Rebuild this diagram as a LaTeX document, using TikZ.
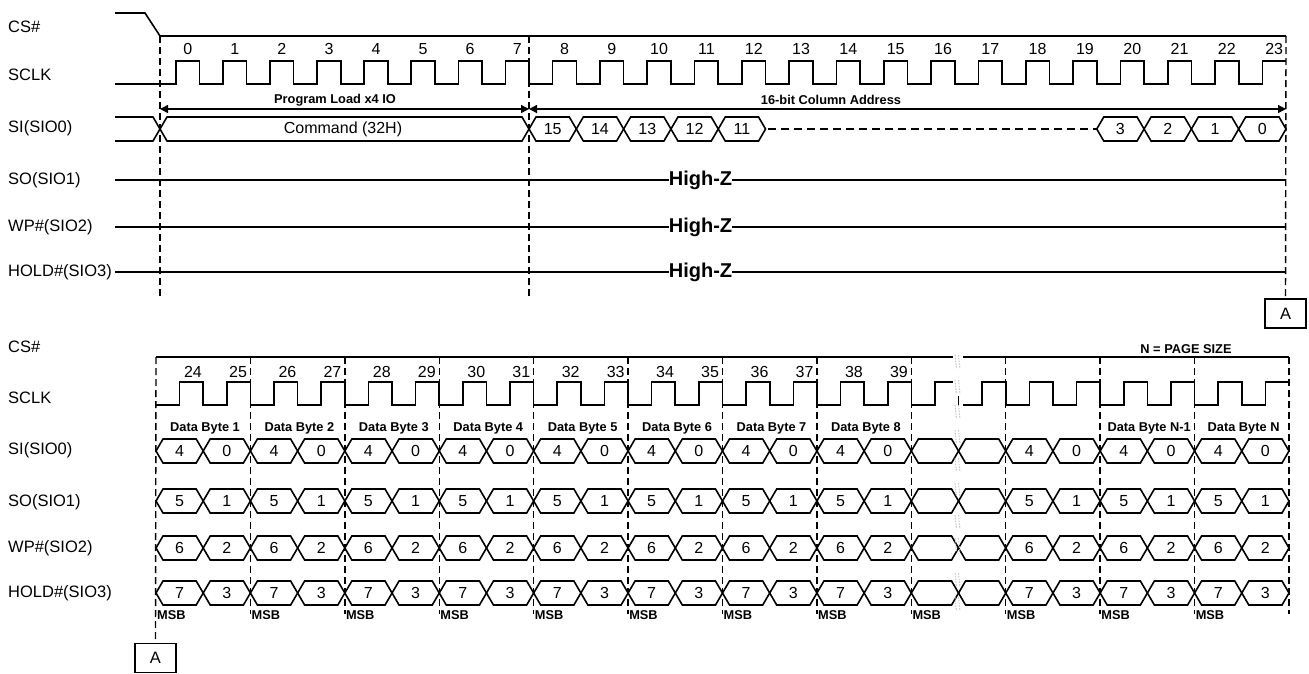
\documentclass[tikz,border=0pt]{standalone}
\usepackage{fontspec}
\setmainfont{Liberation Sans}
\usetikzlibrary{arrows.meta}
\begin{document}
\begin{tikzpicture}[x=1pt,y=-1pt,
  sig/.style={line width=1.6pt},
  vdash/.style={line width=1.4pt, dash pattern=on 7pt off 4pt},
  hdash/.style={line width=1.4pt, dash pattern=on 8pt off 5pt},
  lbl/.style={anchor=west, inner sep=0pt, font=\fontsize{16.5}{18}\selectfont},
  num/.style={inner sep=0pt, font=\fontsize{16}{18}\selectfont},
  bld/.style={inner sep=0pt, font=\fontsize{12.8}{14}\selectfont\bfseries},
  hiz/.style={inner sep=0pt, font=\fontsize{20}{22}\selectfont\bfseries},
  abox/.style={draw, line width=1.2pt, minimum width=41pt, minimum height=29pt, inner sep=0pt, font=\fontsize{16.5}{18}\selectfont},
  arr/.style={line width=1.4pt, {Triangle[length=8pt,width=8pt]}-{Triangle[length=8pt,width=8pt]}},
  gmark/.style={gray!45, line width=1pt, dash pattern=on 1.6pt off 1.2pt}]
\useasboundingbox (0,0) rectangle (1309,673);

% ================= TOP SECTION =================
\node[lbl] (tcs) at (8,27) {CS\#};
\node[lbl] (tclk) at (8,75) {SCLK};
\node[lbl] (tsi) at (8,128) {SI(SIO0)};
\node[lbl] (tso) at (8,180) {SO(SIO1)};
\node[lbl] (twp) at (8,227) {WP\#(SIO2)};
\node[lbl] (tho) at (8,272) {HOLD\#(SIO3)};

% CS#
\draw[sig] (115,13) -- (145,13) -- (160,36) -- (1286,36);

% SCLK
\draw[sig] (115,84)
  \foreach \k in {0,...,7} { -- ({176+47.057*\k},84) -- ({176+47.057*\k},61) -- ({199.53+47.057*\k},61) -- ({199.53+47.057*\k},84) }
  \foreach \k in {8,...,22} { -- ({552.66+47.3125*(\k-8)},84) -- ({552.66+47.3125*(\k-8)},61) -- ({576.31+47.3125*(\k-8)},61) -- ({576.31+47.3125*(\k-8)},84) }
  -- (1262.3,84) -- (1262.3,61) -- (1286,61);
\foreach \k in {0,...,7} \node[num] (tn\k) at ({187.8+47.057*\k},49) {\k};
\foreach \k in {8,...,23} \node[num] (tn\k) at ({564.5+47.3125*(\k-8)},49) {\k};

% arrows
\coordinate (pa) at (160,109);
\coordinate (pb) at (529,109);
\coordinate (pc) at (1286,109);
\draw[arr] (pa) -- (pb);
\draw[arr] (pb) -- (pc);
\node[bld] (plx) at (335,100) {Program Load x4 IO};
\node[bld] (cad) at (831,100) {16-bit Column Address};

% SI bus top
\draw[sig] (115,117) -- (153,117) -- (160,129) -- (153,141) -- (115,141);
\draw[sig] (160,129) -- (167,117) -- (522,117) -- (529,129) -- (522,141) -- (167,141) -- cycle;
\node[num] (cmd) at (343,129) {Command (32H)};
\foreach \j/\v in {0/15,1/14,2/13,3/12,4/11,12/3,13/2,14/1,15/0} {
  \draw[sig] ({529+47.3125*\j},129) -- ({536+47.3125*\j},117) -- ({569.3125+47.3125*\j},117) -- ({576.3125+47.3125*\j},129) -- ({569.3125+47.3125*\j},141) -- ({536+47.3125*\j},141) -- cycle;
  \node[num] (ta\v) at ({552.66+47.3125*\j},129) {\v};
}
\draw[hdash] (768,129) -- (1096.7,129);

% High-Z lines
\foreach \y/\n in {180/so,227/wp,272/ho} {
  \node[hiz] (hz\n) at (700.5,\y) {High-Z};
  \draw[sig] (115,\y) -- (hz\n.west);
  \draw[sig] (hz\n.east) -- (1286,\y);
}

% dashed verticals top
\draw[vdash] (160,36) -- (160,299);
\draw[vdash] (529,36) -- (529,299);
\node[abox] (A1) at (1285.5,313.5) {A};
\draw[vdash] (1286,36) -- (A1.north);

% ================= BOTTOM SECTION =================
\node[lbl] (bcs) at (8,347) {CS\#};
\node[lbl] (bclk) at (8,398) {SCLK};
\node[lbl] (bsi) at (8,450) {SI(SIO0)};
\node[lbl] (bso) at (8,502) {SO(SIO1)};
\node[lbl] (bwp) at (8,548) {WP\#(SIO2)};
\node[lbl] (bho) at (8,593) {HOLD\#(SIO3)};

\draw[sig] (156,357) -- (1289,357);

% SCLK bottom
\draw[sig] (156,405)
  \foreach \i in {0,...,10} {
    -- ({179.6+94.4167*\i},405) -- ({179.6+94.4167*\i},382) -- ({203.2+94.4167*\i},382) -- ({203.2+94.4167*\i},405)
    -- ({226.8+94.4167*\i},405) -- ({226.8+94.4167*\i},382) -- ({250.4+94.4167*\i},382) -- ({250.4+94.4167*\i},405) }
  -- (1218.2,405) -- (1218.2,382) -- (1241.8,382) -- (1241.8,405) -- (1265.4,405) -- (1265.4,382) -- (1289,382);

\foreach \i in {0,...,7} {
  \pgfmathtruncatemacro\na{24+2*\i}
  \pgfmathtruncatemacro\nb{25+2*\i}
  \node[num] (bn\na) at ({193+94.4167*\i},372) {\na};
  \node[num] (bn\nb) at ({238+94.4167*\i},372) {\nb};
}

% Data byte labels
\foreach \i/\t in {0/1,1/2,2/3,3/4,4/5,5/6,6/7,7/8,10/N-1,11/N} {
  \node[bld] (db\i) at ({205+94.4167*\i},428) {Data Byte \t};
}
\node[bld] (psz) at (1186,349) {N = PAGE SIZE};

% buses bottom
\foreach \y/\a/\b [count=\r] in {451/4/0, 501/5/1, 548/6/2, 593/7/3} {
  \foreach \i in {0,...,11} {
    \pgfmathsetmacro\s{156+94.4167*\i}
    \pgfmathsetmacro\m{\s+47.2083}
    \pgfmathsetmacro\e{\s+94.4167}
    \draw[sig] (\s,\y) -- (\s+7,\y-12) -- (\m-7,\y-12) -- (\m,\y) -- (\m-7,\y+12) -- (\s+7,\y+12) -- cycle;
    \draw[sig] (\m,\y) -- (\m+7,\y-12) -- (\e-7,\y-12) -- (\e,\y) -- (\e-7,\y+12) -- (\m+7,\y+12) -- cycle;
    \ifnum\i=8 \else
      \node[num] (b\r-\i-a) at ({(\s+\m)/2},\y) {\a};
      \node[num] (b\r-\i-b) at ({(\m+\e)/2},\y) {\b};
    \fi
  }
}

% MSB labels
\foreach \i in {0,...,11} \node[bld, anchor=west] (msb\i) at ({157+94.4167*\i},615) {MSB};

% dashed verticals bottom
\foreach \i in {1,...,12} \draw[vdash] ({156+94.4167*\i},357) -- ({156+94.4167*\i},614);
\node[abox] (A2) at (155.5,658) {A};
\draw[vdash] (156,357) -- (A2.north);

% break marker
\fill[white] (953,350) rectangle (963,410);
\draw[sig] (958.5,396) -- (958.5,405);
\foreach \ya in {355,380,405,430,458,483,515,538,573,597} {
  \draw[gmark] (955,\ya) -- (956.5,\ya+14);
  \draw[gmark] (958.5,\ya) -- (960,\ya+14);
}
\end{tikzpicture}
\end{document}
